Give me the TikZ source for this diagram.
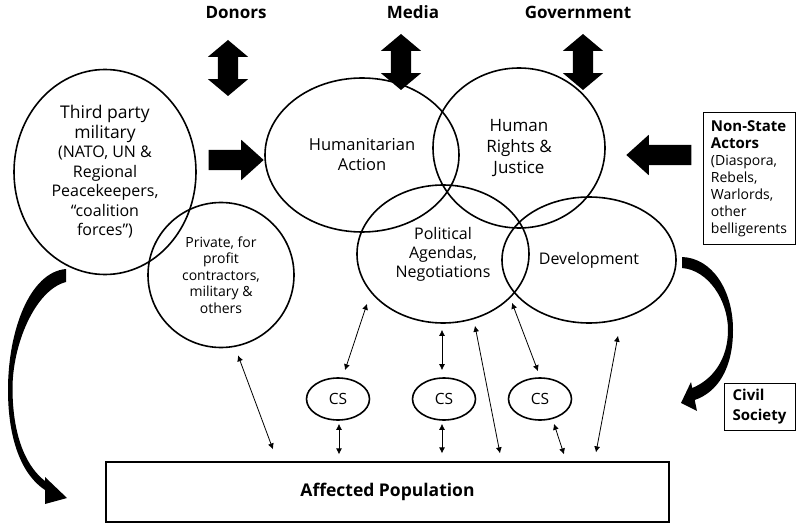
\documentclass[tikz,border=0pt]{standalone}
\usepackage{fontspec}
\setmainfont{Open Sans}
\usetikzlibrary{shapes.geometric,shapes.arrows,arrows.meta}

\tikzset{
  actor/.style={draw, ellipse, line width=1.6pt, inner sep=0pt, align=center},
  csnode/.style={draw, ellipse, line width=1.6pt, minimum width=63pt, minimum height=42pt,
    inner sep=0pt, font=\fontsize{15.5}{18}\selectfont},
  sidebox/.style={draw, line width=1pt, align=left, inner sep=0pt},
  toplabel/.style={anchor=base, font=\bfseries\fontsize{17}{20}\selectfont},
  link/.style={line width=0.8pt, {Latex[length=6pt,width=6pt]}-{Latex[length=6pt,width=6pt]}},
  updown/.style={double arrow, fill=black, rotate=90, minimum height=56pt,
    inner xsep=0pt, inner ysep=10pt, double arrow head extend=10pt, double arrow tip angle=100},
  push/.style={single arrow, fill=black, inner xsep=0pt, inner ysep=10pt,
    single arrow head extend=10pt, single arrow tip angle=84},
}

\begin{document}
\begin{tikzpicture}[x=1pt, y=-1pt]
\useasboundingbox (0,0) rectangle (796,524);

%% outside actors on top
\node[toplabel] (donors) at (236,19) {Donors};
\node[toplabel] (media) at (413,19) {Media};
\node[toplabel] (gov) at (578,19) {Government};
\node[updown] (donorsarr) at (228,68) {};
\node[updown] (mediaarr) at (401,62) {};
\node[updown] (govarr) at (583,62) {};

%% the fields
\node[actor, minimum width=182pt, minimum height=205pt, font=\fontsize{16}{19.5}\selectfont] (mil) at (105,172)
  {\fontsize{17.5}{20}\selectfont Third party\\\fontsize{17.5}{20}\selectfont military\\(NATO, UN \&\\Regional\\Peacekeepers,\\“coalition\\forces”)};
\node[actor, minimum width=146pt, minimum height=145pt, font=\fontsize{14}{16.5}\selectfont] (priv) at (221,275)
  {Private, for\\profit\\contractors,\\military \&\\others};
\node[actor, minimum width=194pt, minimum height=154pt, font=\fontsize{16.5}{20}\selectfont] (hum) at (362,155)
  {Humanitarian\\Action};
\node[actor, minimum width=172pt, minimum height=160pt, font=\fontsize{17}{21}\selectfont] (rights) at (519,148)
  {Human\\Rights \&\\Justice};
\node[actor, minimum width=172pt, minimum height=138pt, font=\fontsize{16}{19}\selectfont] (pol) at (443,254)
  {Political\\Agendas,\\Negotiations};
\node[actor, minimum width=174pt, minimum height=126pt, font=\fontsize{16}{19}\selectfont] (dev) at (589,260)
  {Development};

%% civil society links
\node[csnode] (cs1) at (338,399) {CS};
\node[csnode] (cs2) at (444,399) {CS};
\node[csnode] (cs3) at (540,399) {CS};

\node[draw, line width=1.2pt, minimum width=563pt, minimum height=60pt,
  font=\bfseries\fontsize{17.5}{20}\selectfont] (pop) at (387.5,492) {Affected Population};

%% boxes on the right
\node[sidebox, minimum width=92pt, minimum height=132pt, font=\fontsize{14}{17}\selectfont] (nsa) at (749,179)
  {{\bfseries\fontsize{15}{18}\selectfont Non-State}\\{\bfseries\fontsize{15}{18}\selectfont Actors}\\(Diaspora,\\Rebels,\\Warlords,\\other\\belligerents};
\node[sidebox, minimum width=71pt, minimum height=47pt, font=\bfseries\fontsize{15}{20}\selectfont] (civ) at (759.5,406.5)
  {Civil\\Society};

%% big push arrows
\node[push, minimum height=55pt] (milpush) at (230.5,160) {};
\node[push, minimum height=65pt, shape border rotate=180] (nsapush) at (664.5,155) {};

%% curved arrows
\fill (66,269) .. controls (30,272) and (8,330) .. (8,390)
  .. controls (8,440) and (22,475) .. (45,490) -- (45,504) -- (67,498) -- (45,477) -- (45,481)
  .. controls (28,468) and (13,440) .. (12.5,390)
  .. controls (12,345) and (35,290) .. (66,282) -- cycle;
\fill (682,257) .. controls (712,258) and (733,290) .. (733,330)
  .. controls (733,368) and (718,392) .. (694.7,400) -- (697,411) -- (681,403) -- (691,382) -- (692.2,388)
  .. controls (712,380) and (728,360) .. (728,330)
  .. controls (728,300) and (708,270) .. (682,268) -- cycle;

%% thin two way links
\draw[link] ([shift={(17,7)}]priv.south) -- ([shift={(-114.5,-12)}]pop.north);
\draw[link] ([shift={(-76,-20)}]pol.south) -- ([shift={(7,-7)}]cs1.north);
\draw[link] ([shift={(1,3)}]cs1.south) -- ([shift={(-48.5,-7)}]pop.north);
\draw[link] ([shift={(-1,6)}]pol.south) -- ([shift={(-2,-7)}]cs2.north);
\draw[link] ([shift={(-2,3)}]cs2.south) -- ([shift={(54.5,-8)}]pop.north);
\draw[link] ([shift={(32,2)}]pol.south) -- ([shift={(112.5,-8)}]pop.north);
\draw[link] ([shift={(-77,-21)}]dev.south) -- ([shift={(-2,-6)}]cs3.north);
\draw[link] ([shift={(14,3)}]cs3.south) -- ([shift={(176.5,-7)}]pop.north);
\draw[link] ([shift={(29,12)}]dev.south) -- ([shift={(208.5,-9)}]pop.north);
\end{tikzpicture}
\end{document}
